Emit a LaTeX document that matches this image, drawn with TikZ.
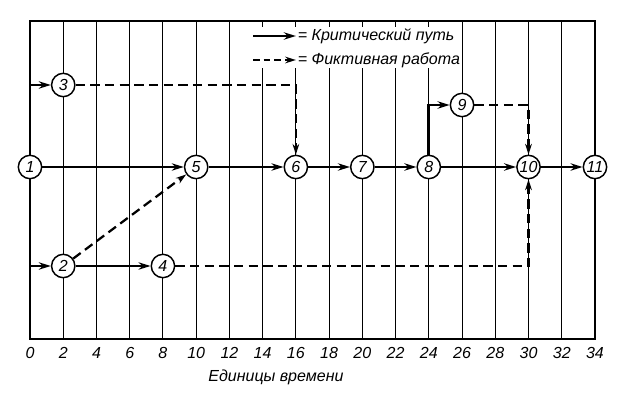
\documentclass[tikz,border=0pt]{standalone}
\usepackage{fontspec}
\setmainfont{Liberation Sans}
\usetikzlibrary{arrows.meta}
\tikzstyle{gEvent} = [circle, draw=black, fill=white, line width=1.1pt, minimum size=17.5pt, inner sep=0pt, font=\itshape\fontsize{12}{12}\selectfont]
\tikzstyle{gCritical} = [line width=2.1pt, -{Stealth[length=9pt,width=5.5pt]}]
\tikzstyle{gDummy} = [line width=1.7pt, dash pattern=on 7pt off 4pt, -{Stealth[length=8pt,width=5pt]}]
\tikzstyle{gGrid} = [line width=0.8pt]
\tikzstyle{gLabel} = [inner sep=0pt, font=\itshape\fontsize{12}{12}\selectfont]

\begin{document}
\begin{tikzpicture}[x=12.463pt, y=-0.75pt]
    \useasboundingbox (-1.805,0) rectangle (35.746,395);
    % time grid
    \foreach \t in {2,4,...,32} \draw [gGrid] (\t,21) -- (\t,339);
    \draw [gGrid] (0,21) rectangle (34,339);
    \draw [line width=1.6pt] (0,339) -- (34,339);
    \foreach \t in {0,2,...,34} \node (tick\t) [gLabel] at (\t,353) {\t};
    \node (axis) [gLabel] at (14.8,377) {Единицы времени};

    % legend
    \fill [white] (13.2,27) rectangle (25.55,68);
    \coordinate (critA) at (13.42,36);
    \coordinate (critB) at (16.0,36);
    \coordinate (dumA) at (13.42,60);
    \coordinate (dumB) at (16.0,60);
    \draw [gCritical] (critA) -- (critB);
    \draw [gDummy, dash pattern=on 5pt off 3pt] (dumA) -- (dumB);
    \node (critText) [gLabel, anchor=west] at (16.1,36) {= Критический путь};
    \node (dumText) [gLabel, anchor=west] at (16.1,60) {= Фиктивная работа};

    \node (ev1) [gEvent] at (0,167) {1};
    \node (ev3) [gEvent] at (2,85) {3};
    \node (ev2) [gEvent] at (2,266) {2};
    \node (ev4) [gEvent] at (8,266) {4};
    \node (ev5) [gEvent] at (10,167) {5};
    \node (ev6) [gEvent] at (16,167) {6};
    \node (ev7) [gEvent] at (20,167) {7};
    \node (ev8) [gEvent] at (24,167) {8};
    \node (ev9) [gEvent] at (26,105) {9};
    \node (ev10) [gEvent] at (30,167) {10};
    \node (ev11) [gEvent] at (34,167) {11};

    \draw [gCritical] (ev1) -- (ev5);
    \draw [gCritical] (ev5) -- (ev6);
    \draw [gCritical] (ev6) -- (ev7);
    \draw [gCritical] (ev7) -- (ev8);
    \draw [gCritical] (ev8) -- (ev10);
    \draw [gCritical] (ev10) -- (ev11);
    \draw [gCritical] (ev2) -- (ev4);
    \draw [gCritical] (ev1) |- (ev3);
    \draw [gCritical] (ev1) |- (ev2);
    \draw [gCritical] (ev8) |- (ev9);
    \draw [gDummy] (ev2) -- (ev5);
    \draw [gDummy] (ev3) -| (ev6);
    \draw [gDummy] (ev4) -| (ev10);
    \draw [gDummy] (ev9) -| (ev10);
\end{tikzpicture}
\end{document}
